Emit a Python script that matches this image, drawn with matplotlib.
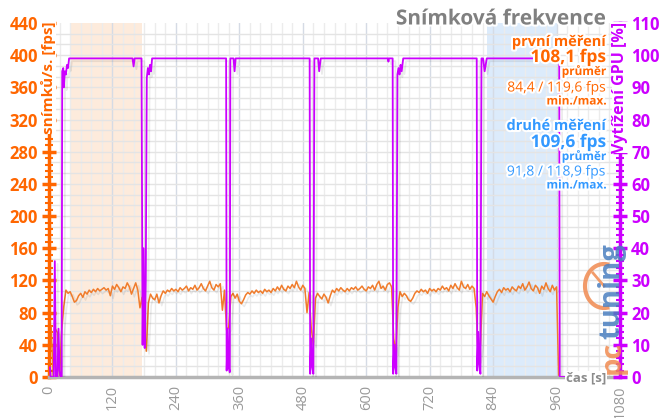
import numpy as np
import matplotlib
matplotlib.use('Agg')
import matplotlib.pyplot as plt
from matplotlib.ticker import MultipleLocator
import matplotlib.patheffects as pe

plt.rcParams['font.family'] = ['Open Sans', 'DejaVu Sans']

ORANGE = '#ff6600'
LINE_OR = '#f07c2c'
MAGENTA = '#cc00ff'
BLUE = '#3399ff'
GRAY = '#8c8c8c'

# fps, sampled every 4 s
fps = [0, 63, 2, 60, 55, 0, 58, 88, 108, 104,
       106, 100, 93, 95, 101, 104, 99, 106, 103, 108,
       105, 109, 106, 110, 107, 109, 111, 108, 110, 101,
       113, 109, 115, 111, 106, 112, 110, 117, 112, 103,
       110, 117, 108, 86, 99, 62, 32, 92, 103, 98,
       96, 103, 92, 101, 107, 104, 108, 106, 110, 107,
       109, 106, 111, 108, 110, 113, 107, 111, 109, 114,
       108, 111, 116, 110, 107, 113, 119, 111, 108, 115,
       112, 116, 83, 108, 58, 62, 100, 104, 98, 103,
       94, 91, 96, 102, 105, 103, 107, 104, 108, 105,
       107, 104, 109, 106, 108, 105, 110, 107, 112, 108,
       114, 109, 107, 113, 110, 115, 111, 119, 112, 108,
       114, 110, 80, 105, 61, 40, 98, 104, 100, 97,
       103, 99, 92, 101, 108, 105, 110, 107, 111, 108,
       106, 110, 107, 111, 109, 112, 108, 110, 113, 109,
       107, 112, 110, 114, 108, 115, 119, 110, 113, 108,
       115, 117, 112, 48, 30, 87, 106, 100, 104, 101,
       96, 94, 98, 104, 107, 105, 109, 106, 108, 104,
       110, 107, 109, 106, 110, 108, 113, 109, 111, 107,
       114, 110, 116, 111, 108, 119, 112, 110, 115, 109,
       113, 110, 86, 21, 40, 104, 100, 106, 101, 97,
       93, 100, 106, 109, 105, 111, 108, 110, 106, 112,
       109, 107, 113, 110, 116, 108, 112, 118, 110, 107,
       114, 111, 104, 113, 109, 117, 110, 106, 114, 108,
       112, 0, 0]
fps_t = np.arange(len(fps)) * 4

# GPU load [%]
gpu_t = [0, 2, 3, 9, 11, 13, 16, 18, 20, 22, 24, 25, 27, 28, 30, 32, 34, 36, 38,
         158, 160, 162, 175, 177, 179, 181, 183, 185, 187, 189, 191, 193, 195,
         335, 336, 338, 340, 342, 343, 349, 351, 353,
         493, 494, 496, 498, 500, 502, 509, 511, 514,
         641, 642, 643, 650, 651, 653, 655, 657, 659, 661, 663, 665, 667, 670,
         809, 810, 812, 814, 816, 818, 821, 824, 828,
         965, 966, 987]
gpu = [3, 3, 0, 0, 36, 0, 0, 15, 2, 0, 0, 95, 96, 90, 95, 94, 97, 96, 99,
       99, 96.5, 99, 99, 10, 40, 9, 30, 93, 96, 94, 97, 95, 99,
       99, 2, 15, 3, 1.5, 99, 99, 95, 99,
       99, 1, 12, 3, 1, 99, 99, 95, 99,
       99, 98, 99, 99, 1, 10, 3, 1, 94, 96, 94, 97, 95, 99,
       99, 2, 14, 4, 1, 99, 99, 95, 99,
       99, 0, 0]

first_span = (40, 176)
second_span = (829, 961)

W, H = 659, 418
fig = plt.figure(figsize=(W / 100, H / 100), dpi=100)
ax = fig.add_axes([49 / W, 1 - 377 / H, 571 / W, 354 / H])
ax2 = ax.twinx()

def px(x, y):
    return x / W, 1 - y / H

ax.axvspan(*first_span, color='#fdebdc', zorder=0, lw=0)
ax.axvspan(*second_span, color='#dcebfb', zorder=0, lw=0)

ax.set_xlim(0, 1080)
ax.set_ylim(0, 440)
ax2.set_ylim(0, 110)

ax.xaxis.set_major_locator(MultipleLocator(120))
ax.yaxis.set_major_locator(MultipleLocator(40))
ax.yaxis.set_minor_locator(MultipleLocator(8))
ax2.yaxis.set_major_locator(MultipleLocator(10))
ax2.yaxis.set_minor_locator(MultipleLocator(2))

# grid
for v in np.arange(20, 1080, 20):
    ax.axvline(v, color='#d5dbe5' if v % 120 == 0 else '#ececec', lw=1, zorder=0.5)
for v in np.arange(40 / 3, 440, 40 / 3):
    ax.axhline(v, color='#e4e4e4', lw=1, zorder=0.5)

shadow = [pe.SimpleLineShadow(offset=(2, -2), shadow_color='#000000', alpha=0.08), pe.Normal()]
ax.plot(fps_t, fps, color=LINE_OR, lw=1.1, zorder=2, path_effects=shadow)
ax2.plot(gpu_t, gpu, color=MAGENTA, lw=1.3, zorder=3, path_effects=shadow)

for a in (ax, ax2):
    a.spines['top'].set_visible(False)
ax.spines['left'].set_color(ORANGE)
ax.spines['left'].set_linewidth(2.5)
ax.spines['right'].set_visible(False)
ax.spines['bottom'].set_color('#b4b4b4')
ax.spines['bottom'].set_linewidth(2.5)
ax2.spines['left'].set_visible(False)
ax2.spines['bottom'].set_visible(False)
ax2.spines['right'].set_color(MAGENTA)
ax2.spines['right'].set_linewidth(2.5)

ax.tick_params(axis='y', which='major', direction='inout', length=10, width=2.5,
               color=ORANGE, labelcolor=ORANGE, labelsize=12, pad=3)
ax.tick_params(axis='y', which='minor', direction='inout', length=6, width=1.5, color=ORANGE)
ax2.tick_params(axis='y', which='major', direction='inout', length=10, width=2.5,
                color=MAGENTA, labelcolor=MAGENTA, labelsize=12, pad=3)
ax2.tick_params(axis='y', which='minor', direction='inout', length=6, width=1.5, color=MAGENTA)
ax.tick_params(axis='x', which='both', length=0, labelcolor='#999999', labelsize=10.5, pad=6)
ax.set_xticks(np.arange(0, 1081, 120))
ax.set_xticklabels([str(v) for v in range(0, 1081, 120)], rotation=90)
for lab in ax.get_yticklabels() + ax2.get_yticklabels():
    lab.set_fontweight('bold')

ax.set_zorder(1)
ax2.set_zorder(2)
ax2.patch.set_visible(False)

halo = [pe.withStroke(linewidth=3, foreground='white')]
wb = dict(facecolor='white', edgecolor='none', pad=0)

fig.text(*px(48.5, 21), 'snímků/s. [fps]', rotation=90, ha='center', va='top', color=ORANGE,
         fontsize=11, fontweight='bold', bbox=wb, zorder=10)
fig.text(*px(620, 22), 'Vytížení GPU [%]', rotation=90, ha='center', va='top', color=MAGENTA,
         fontsize=11.5, fontweight='bold', bbox=wb, zorder=10)
fig.text(*px(606, 378), 'čas [s]', ha='right', va='center', color=GRAY,
         fontsize=9.5, fontweight='bold', bbox=dict(facecolor='white', edgecolor='none', pad=0.5),
         zorder=10)

fig.text(*px(606, 19), 'Snímková frekvence', ha='right', va='center', color='#808080',
         fontsize=15, fontweight='bold', path_effects=halo, zorder=10)

legend_rows = [
    (42, 'první měření', 10.5, 'bold', ORANGE),
    (57, '108,1 fps', 12.5, 'bold', ORANGE),
    (71, 'průměr', 8.5, 'bold', ORANGE),
    (88, '84,4 / 119,6 fps', 10, 'normal', ORANGE),
    (101, 'min./max.', 8.5, 'bold', ORANGE),
    (126, 'druhé měření', 10.5, 'bold', BLUE),
    (142, '109,6 fps', 12.5, 'bold', BLUE),
    (156, 'průměr', 8.5, 'bold', BLUE),
    (172, '91,8 / 118,9 fps', 10, 'normal', BLUE),
    (185, 'min./max.', 8.5, 'bold', BLUE),
]
for y, txt, size, weight, col in legend_rows:
    fig.text(*px(606, y), txt, ha='right', va='center', color=col, fontsize=size,
             fontweight=weight, path_effects=halo, zorder=10)

# pctuning watermark
fig.text(*px(612, 374), 'pc', rotation=90, ha='center', va='bottom', color='#f08a50',
         fontsize=21, fontweight='bold', alpha=0.85, zorder=9)
fig.text(*px(612, 339), 'tuning', rotation=90, ha='center', va='bottom', color='#4a7fc0',
         fontsize=21, fontweight='bold', alpha=0.85, zorder=9)
ang = np.radians(np.linspace(80, 280, 40))
cx, cy = 604, 286
fig.add_artist(plt.Line2D((cx + 19 * np.cos(ang)) / W, 1 - (cy - 22 * np.sin(ang)) / H,
                          transform=fig.transFigure, color='#f08a50', lw=3, alpha=0.85))
fig.add_artist(plt.Line2D([593 / W, cx / W], [1 - 273 / H, 1 - cy / H], transform=fig.transFigure,
                          color='#f08a50', lw=2, alpha=0.85))

fig.savefig('out.png', dpi=100)
